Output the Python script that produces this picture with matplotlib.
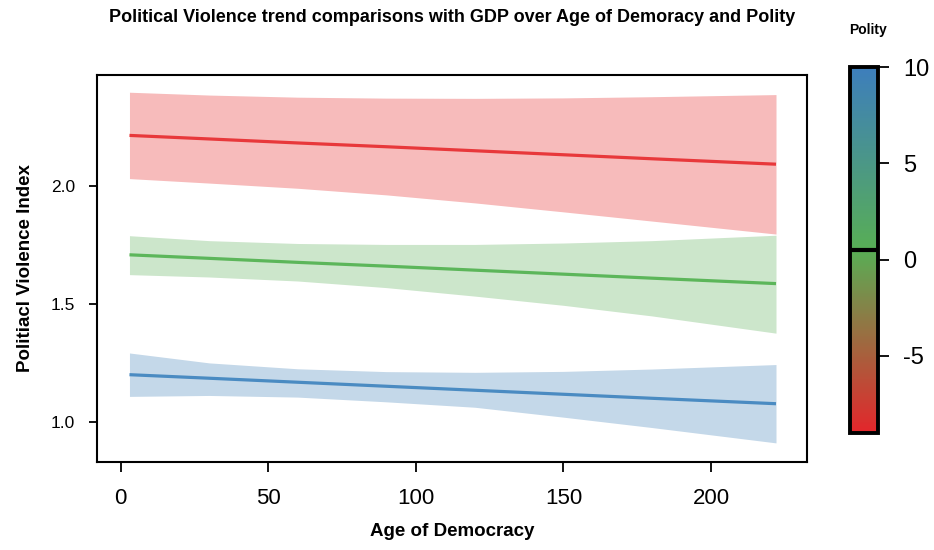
import numpy as np
import matplotlib
matplotlib.use("Agg")
import matplotlib.pyplot as plt
from matplotlib.colors import LinearSegmentedColormap, Normalize
from matplotlib.cm import ScalarMappable

plt.rcParams['font.family'] = ['Liberation Sans', 'DejaVu Sans']
plt.rcParams['axes.unicode_minus'] = False

# age of democracy sample points
age = [3, 30, 60, 90, 120, 150, 180, 222]

# polity group: high (red), mid (green), low (blue) -- fit and 95% band
red_fit = [2.214, 2.199, 2.182, 2.166, 2.149, 2.132, 2.115, 2.092]
red_hi = [2.397, 2.385, 2.376, 2.372, 2.371, 2.373, 2.378, 2.387]
red_lo = [2.031, 2.012, 1.990, 1.962, 1.928, 1.890, 1.851, 1.796]

green_fit = [1.708, 1.693, 1.676, 1.660, 1.643, 1.626, 1.609, 1.586]
green_hi = [1.789, 1.768, 1.756, 1.752, 1.752, 1.758, 1.768, 1.791]
green_lo = [1.624, 1.614, 1.597, 1.569, 1.533, 1.494, 1.449, 1.376]

blue_fit = [1.200, 1.185, 1.168, 1.151, 1.134, 1.117, 1.100, 1.077]
blue_hi = [1.292, 1.250, 1.225, 1.213, 1.210, 1.214, 1.224, 1.243]
blue_lo = [1.108, 1.112, 1.105, 1.085, 1.062, 1.020, 0.976, 0.911]

x_ticks = [0, 50, 100, 150, 200]
y_ticks = [1.0, 1.5, 2.0]
polity_min, polity_max = -9, 10
polity_ticks = [-5, 0, 5, 10]

fig = plt.figure(figsize=(9.34, 5.5), dpi=100)
ax = fig.add_axes([97/934, 1-462/550, (807-97)/934, (462-75)/550])

series = [
    (red_fit, red_hi, red_lo, '#E8383B', '#F7BBBB'),
    (green_fit, green_hi, green_lo, '#5CB65A', '#CCE6CB'),
    (blue_fit, blue_hi, blue_lo, '#4A8BC2', '#C4D8E9'),
]
for fit, hi, lo, lc, fc in series:
    ax.fill_between(age, lo, hi, color=fc, linewidth=0)
    ax.plot(age, fit, color=lc, lw=2.3, solid_capstyle='butt')

ax.set_xlim(-8, 232.5)
ax.set_ylim(0.83, 2.47)
ax.set_xticks(x_ticks)
ax.set_yticks(y_ticks)
ax.set_yticklabels(['%.1f' % v for v in y_ticks])
for s in ax.spines.values():
    s.set_linewidth(1.5)
ax.tick_params(axis='x', direction='out', length=7, width=1.3, pad=12, labelsize=16)
ax.tick_params(axis='y', direction='out', length=6, width=1.3, pad=10, labelsize=12.5)

ax.set_xlabel('Age of Democracy', fontsize=13.5, fontweight='bold', labelpad=10)
ax.set_ylabel('Politiacl Violence Index', fontsize=13.5, fontweight='bold', labelpad=12)
fig.text(452/934, 1-17/550, 'Political Violence trend comparisons with GDP over Age of Demoracy and Polity',
         ha='center', va='center', fontsize=13, fontweight='bold')

# colorbar
cmap = LinearSegmentedColormap.from_list('polity', [(0.0, '#E3262B'), (0.5, '#58AE55'), (1.0, '#3D7EBC')])
cax = fig.add_axes([850/934, 1-433/550, 28/934, (433-67)/550])
sm = ScalarMappable(norm=Normalize(polity_min, polity_max), cmap=cmap)
cb = fig.colorbar(sm, cax=cax)
cb.set_ticks(polity_ticks)
cb.outline.set_linewidth(2.8)
cax.axhline((polity_min + polity_max) / 2, color='black', lw=3)
cax.tick_params(direction='out', length=8, width=1.3, pad=10, labelsize=17)
fig.text(868/934, 1-30/550, 'Polity', ha='center', va='center', fontsize=10, fontweight='bold')

fig.savefig('out.png', dpi=100)
